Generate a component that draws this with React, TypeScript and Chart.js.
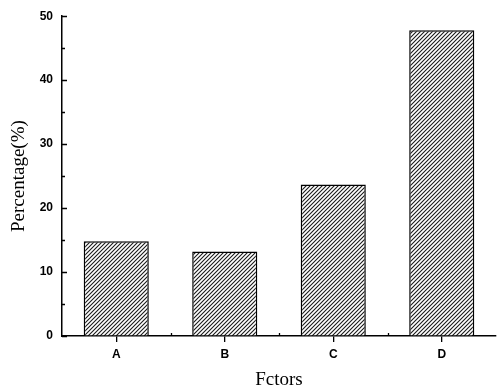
import React, { useEffect, useRef } from "react";
import { Chart, registerables } from "chart.js";

Chart.register(...registerables);

const categories = ["A", "B", "C", "D"];
const percentages = [14.8, 13.2, 23.7, 47.8];
const yTicks = [0, 10, 20, 30, 40, 50];
const yMinorTicks = [5, 15, 25, 35, 45];

function makeHatch(): CanvasPattern | string {
  const c = document.createElement("canvas");
  const s = 4;
  c.width = s;
  c.height = s;
  const g = c.getContext("2d");
  if (!g) return "#555";
  g.fillStyle = "#ffffff";
  g.fillRect(0, 0, s, s);
  g.strokeStyle = "#1a1a1a";
  g.lineWidth = 1.1;
  g.beginPath();
  g.moveTo(0, s);
  g.lineTo(s, 0);
  g.moveTo(-1, 1);
  g.lineTo(1, -1);
  g.moveTo(s - 1, s + 1);
  g.lineTo(s + 1, s - 1);
  g.stroke();
  const p = g.createPattern(c, "repeat");
  return p || "#555";
}

const axisTicks = {
  id: "axisTicks",
  afterDraw(chart: any) {
    const ctx = chart.ctx;
    const x = chart.scales.x;
    const y = chart.scales.y;
    ctx.save();
    ctx.strokeStyle = "#000";
    ctx.lineWidth = 1.3;
    ctx.beginPath();
    yTicks.forEach((v) => {
      const py = Math.round(y.getPixelForValue(v)) + 0.5;
      ctx.moveTo(x.left, py);
      ctx.lineTo(x.left + 5, py);
    });
    yMinorTicks.forEach((v) => {
      const py = Math.round(y.getPixelForValue(v)) + 0.5;
      ctx.moveTo(x.left, py);
      ctx.lineTo(x.left + 3, py);
    });
    for (let i = 0; i < categories.length - 1; i++) {
      const px = Math.round((x.getPixelForValue(i) + x.getPixelForValue(i + 1)) / 2) + 0.5;
      ctx.moveTo(px, y.bottom);
      ctx.lineTo(px, y.bottom - 3);
    }
    ctx.stroke();
    ctx.restore();
  },
};

export default function App() {
  const ref = useRef<HTMLCanvasElement | null>(null);
  useEffect(() => {
    document.body.style.margin = "0";
    const canvas = ref.current;
    if (!canvas) return;
    const chart = new Chart(canvas, {
      type: "bar",
      data: {
        labels: categories,
        datasets: [
          {
            data: percentages,
            backgroundColor: makeHatch() as any,
            borderColor: "#000",
            borderWidth: 1.5,
            borderSkipped: "bottom",
            categoryPercentage: 1,
            barPercentage: 0.6,
          },
        ],
      },
      options: {
        responsive: false,
        animation: false,
        layout: { padding: { top: 13, right: 1, left: 0, bottom: 0 } },
        plugins: { legend: { display: false }, tooltip: { enabled: false } },
        scales: {
          x: {
            offset: true,
            grid: {
              offset: false,
              drawOnChartArea: false,
              drawTicks: true,
              tickLength: 6,
              color: "#000",
              lineWidth: 1.3,
            },
            border: { color: "#000", width: 1.5 },
            ticks: {
              color: "#000",
              padding: 5,
              font: { family: "Liberation Sans, Arial, sans-serif", size: 12, weight: "bold" },
            },
            title: {
              display: true,
              text: "Fctors",
              color: "#000",
              font: { family: "Liberation Serif, Times New Roman, serif", size: 19 },
              padding: { top: 3, bottom: 0 },
            },
            afterFit: (s: any) => {
              s.height = 55;
            },
          },
          y: {
            min: 0,
            max: 50,
            afterBuildTicks: (s: any) => {
              s.ticks = yTicks.map((v) => ({ value: v }));
            },
            grid: {
              drawOnChartArea: false,
              drawTicks: false,
              color: "#000",
            },
            border: { color: "#000", width: 1.5 },
            ticks: {
              color: "#000",
              padding: 9,
              font: { family: "Liberation Sans, Arial, sans-serif", size: 12, weight: "bold" },
            },
            title: {
              display: true,
              text: "Percentage(%)",
              color: "#000",
              font: { family: "Liberation Serif, Times New Roman, serif", size: 19 },
              padding: { top: 8, bottom: 0 },
            },
            afterFit: (s: any) => {
              s.width = 62;
            },
          },
        },
      },
      plugins: [axisTicks],
    });
    return () => chart.destroy();
  }, []);
  return (
    <div style={{ width: 497, height: 391, background: "#fff" }}>
      <canvas ref={ref} width={497} height={391} style={{ display: "block" }} />
    </div>
  );
}
